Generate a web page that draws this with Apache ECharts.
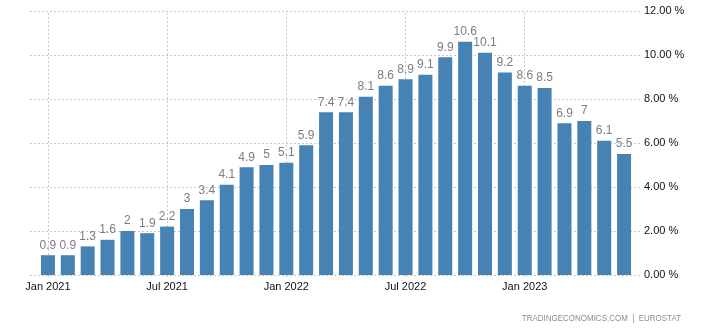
<!DOCTYPE html>
<html>
<head>
<meta charset="utf-8">
<style>
  html, body { margin: 0; padding: 0; background: #fff; }
  #chart { width: 701px; height: 331px; }
</style>
<script src="https://cdn.jsdelivr.net/npm/echarts@6/dist/echarts.min.js"></script>
</head>
<body>
<div id="chart"></div>
<script>
// Monthly inflation rate, Jan 2021 – Jun 2023 (%)
const months = [
  'Jan 2021', 'Feb 2021', 'Mar 2021', 'Apr 2021', 'May 2021', 'Jun 2021',
  'Jul 2021', 'Aug 2021', 'Sep 2021', 'Oct 2021', 'Nov 2021', 'Dec 2021',
  'Jan 2022', 'Feb 2022', 'Mar 2022', 'Apr 2022', 'May 2022', 'Jun 2022',
  'Jul 2022', 'Aug 2022', 'Sep 2022', 'Oct 2022', 'Nov 2022', 'Dec 2022',
  'Jan 2023', 'Feb 2023', 'Mar 2023', 'Apr 2023', 'May 2023', 'Jun 2023'
];
const rates = [
  0.9, 0.9, 1.3, 1.6, 2, 1.9,
  2.2, 3, 3.4, 4.1, 4.9, 5,
  5.1, 5.9, 7.4, 7.4, 8.1, 8.6,
  8.9, 9.1, 9.9, 10.6, 10.1, 9.2,
  8.6, 8.5, 6.9, 7, 6.1, 5.5
];
// Months that get an axis label and a vertical guide line
const labelledMonths = ['Jan 2021', 'Jul 2021', 'Jan 2022', 'Jul 2022', 'Jan 2023'];
const yTicks = { min: 0, max: 12, interval: 2 };
const sourceText = 'TRADINGECONOMICS.COM  |  EUROSTAT';

const chart = echarts.init(document.getElementById('chart'), null, { renderer: 'canvas' });

const gridLine = { color: '#c8c8c8', width: 1, type: [2, 2] };
const axisFont = { fontFamily: 'Liberation Sans, Arial, sans-serif', fontSize: 11, color: '#10101c' };

chart.setOption({
  animation: false,
  backgroundColor: '#ffffff',
  grid: [
    // wide grid carrying the horizontal guide lines and the right-hand scale
    { left: 30, right: 60, top: 11, bottom: 56, containLabel: false },
    // inner grid holding the bars
    { left: 38, right: 67, top: 11, bottom: 56, containLabel: false }
  ],
  xAxis: [
    { gridIndex: 0, type: 'value', show: false, min: 0, max: 1 },
    {
      gridIndex: 1,
      type: 'category',
      data: months,
      axisLine: { show: false },
      axisTick: {
        show: true,
        alignWithLabel: true,
        interval: (i, v) => labelledMonths.includes(v),
        length: 3,
        lineStyle: gridLine
      },
      axisLabel: {
        ...axisFont,
        margin: 6,
        interval: (i, v) => labelledMonths.includes(v)
      },
      splitLine: { show: false }
    }
  ],
  yAxis: [
    {
      gridIndex: 0,
      type: 'value',
      position: 'right',
      min: yTicks.min, max: yTicks.max, interval: yTicks.interval,
      axisLine: { show: false },
      axisTick: { show: false },
      axisLabel: {
        ...axisFont,
        margin: 3,
        formatter: v => v.toFixed(2) + ' %'
      },
      splitLine: { show: true, lineStyle: gridLine }
    },
    {
      gridIndex: 1,
      type: 'value',
      show: false,
      min: yTicks.min, max: yTicks.max, interval: yTicks.interval,
      splitLine: { show: false }
    }
  ],
  series: [
    {
      type: 'bar',
      xAxisIndex: 1,
      yAxisIndex: 1,
      data: rates,
      barWidth: 14,
      itemStyle: { color: '#4682b4' },
      label: {
        show: true,
        position: 'top',
        distance: 4,
        fontFamily: 'Liberation Sans, Arial, sans-serif',
        fontSize: 12,
        color: '#7c7c86'
      },
      markLine: {
        silent: true,
        symbol: 'none',
        label: { show: false },
        lineStyle: gridLine,
        z: 0,
        data: labelledMonths.map(m => ({ xAxis: m }))
      }
    }
  ],
  graphic: [
    {
      // source credit, horizontally condensed
      type: 'text',
      x: 681,
      y: 318,
      scaleX: 0.84,
      style: {
        text: sourceText,
        x: 0,
        y: 0,
        align: 'right',
        verticalAlign: 'middle',
        font: '9.5px "Liberation Sans", Arial, sans-serif',
        fill: '#8c8c8c'
      }
    }
  ]
});
</script>
</body>
</html>
